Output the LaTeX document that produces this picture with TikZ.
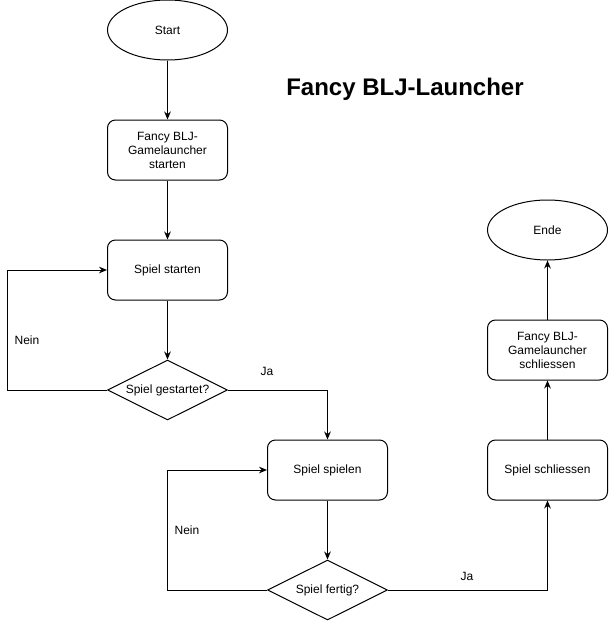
\documentclass[tikz,border=0pt]{standalone}
\usepackage{fontspec}
\setmainfont{Liberation Sans}
\usetikzlibrary{shapes.geometric,arrows.meta}

\begin{document}
\begin{tikzpicture}[x=0.75pt, y=-0.75pt, line width=0.75pt,
  every node/.style={font=\fontsize{9}{10.5}\selectfont, align=center},
  terminal/.style={draw, ellipse, minimum width=90pt, minimum height=45pt, inner sep=0pt},
  process/.style={draw, rounded corners=6pt, minimum width=90pt, minimum height=45pt, inner sep=0pt},
  decision/.style={draw, diamond, aspect=2, minimum width=90pt, minimum height=45pt, inner sep=0pt},
  flow/.style={-{Stealth[length=6pt, width=5pt]}},
  tag/.style={inner sep=0pt}]
  \useasboundingbox (0,0) rectangle (608,621);

  % linke Spalte
  \node[terminal] (start) at (167.5,30) {Start};
  \node[process] (launch) at (167.5,150) {Fancy BLJ-\\Gamelauncher\\starten};
  \node[process] (begin) at (167.5,270) {Spiel starten};
  \node[decision] (started) at (167.5,390) {Spiel gestartet?};

  % mittlere Spalte
  \node[process] (play) at (327.5,470) {Spiel spielen};
  \node[decision] (done) at (327.5,590) {Spiel fertig?};

  % rechte Spalte
  \node[process] (quit) at (547.5,470) {Spiel schliessen};
  \node[process] (close) at (547.5,350) {Fancy BLJ-\\Gamelauncher\\schliessen};
  \node[terminal] (stop) at (547.5,230) {Ende};

  \node[font=\fontsize{18}{21}\selectfont\bfseries] (title) at (405,89) {Fancy BLJ-Launcher};

  \draw[flow] (start) -- (launch);
  \draw[flow] (launch) -- (begin);
  \draw[flow] (begin) -- (started);
  \draw[flow] (started.west) -- ++(-100,0) |- (begin.west);
  \draw[flow] (started.east) -| (play.north);
  \draw[flow] (play) -- (done);
  \draw[flow] (done.west) -- ++(-100,0) |- (play.west);
  \draw[flow] (done.east) -| (quit.south);
  \draw[flow] (quit) -- (close);
  \draw[flow] (close) -- (stop);

  \node[tag] (no1) at (27,340) {Nein};
  \node[tag] (yes1) at (267,371) {Ja};
  \node[tag] (no2) at (187,530) {Nein};
  \node[tag] (yes2) at (467,576) {Ja};
\end{tikzpicture}
\end{document}
